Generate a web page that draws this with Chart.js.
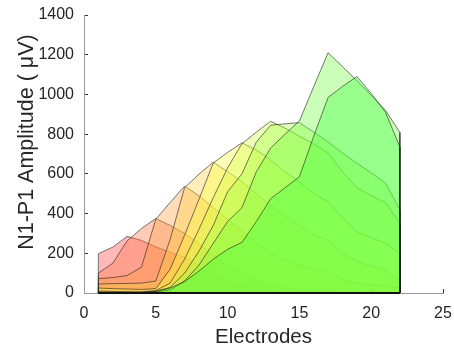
<!DOCTYPE html>
<html>
<head>
<meta charset="utf-8">
<script src="https://cdn.jsdelivr.net/npm/chart.js@4.4.0/dist/chart.umd.min.js"></script>
<style>
  html, body { margin: 0; padding: 0; background: #fff; }
  #wrap { width: 454px; height: 350px; }
</style>
</head>
<body>
<div id="wrap"><canvas id="ampChart" width="454" height="350"></canvas></div>
<script>
// electrodes 1..22
const electrodes = [1, 2, 3, 4, 5, 6, 7, 8, 9, 10, 11, 12, 13, 14, 15, 16, 17, 18, 19, 20, 21, 22];

// N1-P1 amplitude per electrode, one array per stimulus (back -> front)
const amp1 = [198, 231, 285, 265, 232, 205, 180, 140, 100, 62, 32, 16, 9, 6, 4, 3, 2, 2, 1, 1, 1, 1];
const amp2 = [100, 150, 262, 325, 375, 340, 300, 250, 190, 140, 95, 60, 38, 25, 16, 10, 8, 6, 5, 4, 3, 2];
const amp3 = [72, 78, 88, 130, 372, 456, 538, 490, 430, 370, 310, 255, 200, 165, 140, 120, 100, 70, 50, 42, 35, 25];
const amp4 = [45, 47, 48, 50, 60, 270, 530, 598, 659, 610, 560, 500, 440, 390, 340, 295, 265, 200, 160, 135, 117, 67];
const amp5 = [25, 22, 20, 18, 22, 120, 290, 470, 655, 708, 756, 720, 670, 610, 560, 500, 460, 380, 310, 280, 250, 200];
const amp6 = [10, 8, 7, 6, 12, 50, 170, 320, 480, 630, 752, 810, 865, 830, 790, 750, 705, 610, 530, 490, 455, 352];
const amp7 = [5, 4, 3, 3, 8, 28, 100, 210, 340, 510, 600, 760, 845, 852, 858, 810, 760, 705, 654, 605, 553, 419];
const amp8 = [2, 2, 2, 2, 5, 15, 60, 140, 250, 360, 430, 610, 730, 800, 866, 1040, 1210, 1140, 1070, 995, 920, 808];
const amp9 = [0, 1, 2, 3, 8, 25, 57, 110, 170, 220, 255, 360, 475, 530, 585, 790, 985, 1040, 1090, 1005, 910, 735];

const yTicks = [0, 200, 400, 600, 800, 1000, 1200, 1400];
const xTicks = [0, 5, 10, 15, 20, 25];

const series = [amp1, amp2, amp3, amp4, amp5, amp6, amp7, amp8, amp9];

// hue from red to green
function hueColor(i, n, alpha) {
    let h = (i / (n - 1)) * 120;
    let s = 0.76, v = 1;
    let c = v * s;
    let x = c * (1 - Math.abs(((h / 60) % 2) - 1));
    let m = v - c;
    let r, g, b;
    if (h < 60) { r = c; g = x; b = 0; } else { r = x; g = c; b = 0; }
    r = Math.round((r + m) * 255); g = Math.round((g + m) * 255); b = Math.round((b + m) * 255);
    return 'rgba(' + r + ',' + g + ',' + b + ',' + alpha + ')';
}

// outline: baseline at first electrode, up, along, back down at the last one
function polygon(values) {
    let pts = [{ x: electrodes[0], y: 0 }];
    values.forEach((v, i) => pts.push({ x: electrodes[i], y: v }));
    pts.push({ x: electrodes[electrodes.length - 1], y: 0 });
    return pts;
}

let datasets = series.map((vals, i) => ({
    data: polygon(vals),
    fill: 'origin',
    backgroundColor: hueColor(i, series.length, 0.36),
    borderColor: 'rgba(30,30,30,0.75)',
    borderWidth: 0.8,
    pointRadius: 0,
    tension: 0,
    clip: false,
    order: series.length - i + 1
}));

// bottom edge of the polygons
datasets.push({
    data: [{ x: electrodes[0], y: 0 }, { x: electrodes[electrodes.length - 1], y: 0 }],
    fill: false,
    borderColor: '#111',
    borderWidth: 2,
    pointRadius: 0,
    clip: false,
    order: 0
});

const ctx = document.getElementById('ampChart').getContext('2d');
new Chart(ctx, {
    type: 'line',
    data: { datasets: datasets },
    options: {
        responsive: false,
        animation: false,
        events: [],
        layout: { padding: { top: 15, right: 11, left: 0, bottom: 0 } },
        plugins: { legend: { display: false }, tooltip: { enabled: false } },
        scales: {
            x: {
                type: 'linear',
                min: 0, max: 25,
                afterBuildTicks: s => { s.ticks = xTicks.map(v => ({ value: v })); },
                afterFit: s => { s.height = 57; s.paddingLeft = 0; s.paddingRight = 0; },
                grid: { drawOnChartArea: false, tickLength: -4, color: '#333', lineWidth: 1 },
                border: { display: true, color: '#999', width: 1 },
                ticks: { color: '#262626', padding: 15, callback: v => String(v), font: { family: 'Liberation Sans, Arial', size: 16 } },
                title: { display: true, text: 'Electrodes', color: '#262626', padding: { top: 0, bottom: 0 }, font: { family: 'Liberation Sans, Arial', size: 20.5 } }
            },
            y: {
                min: 0, max: 1400,
                afterBuildTicks: s => { s.ticks = yTicks.map(v => ({ value: v })); },
                afterFit: s => { s.width = 84; s.paddingTop = 0; s.paddingBottom = 0; },
                grid: { drawOnChartArea: false, tickLength: -4, color: '#333', lineWidth: 1 },
                border: { display: true, color: '#999', width: 1 },
                ticks: { color: '#262626', padding: 14, callback: v => String(v), font: { family: 'Liberation Sans, Arial', size: 16 } },
                title: { display: true, text: '    N1-P1 Amplitude ( μV)', color: '#262626', padding: { top: 14, bottom: 0 }, font: { family: 'Liberation Sans, Arial', size: 21.5 } }
            }
        }
    }
});
</script>
</body>
</html>
